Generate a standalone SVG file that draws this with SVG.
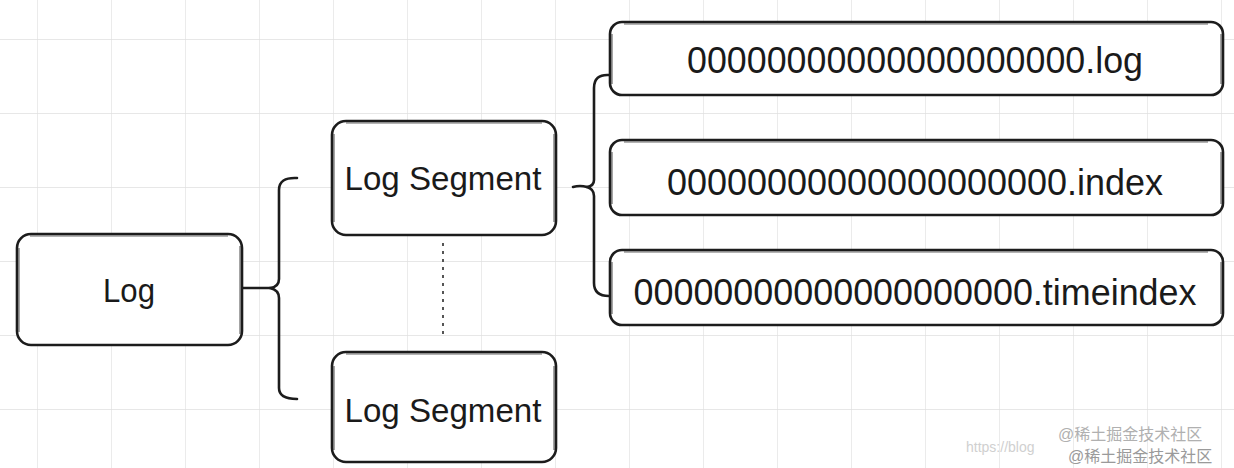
<svg xmlns="http://www.w3.org/2000/svg" width="1234" height="468" viewBox="0 0 1234 468">
  <defs>
    <pattern id="grid" x="37" y="39" width="74" height="74" patternUnits="userSpaceOnUse">
      <path d="M0 0 H74 M0 0 V74" fill="none" stroke="#e0e0e0" stroke-width="1.3"/>
    </pattern>
  </defs>
  <style>
    .box { fill: #ffffff; stroke: #1c1c1c; stroke-width: 2.6; stroke-linejoin: round; }
    .sk { fill: none; stroke: #2a2a2a; stroke-width: 1.2; opacity: 0.7; }
    .lbl { font-family: "Liberation Sans", "DejaVu Sans", sans-serif; fill: #1a1a1a; text-anchor: middle; }
    .con { fill: none; stroke: #1c1c1c; stroke-width: 2.6; stroke-linecap: round; stroke-linejoin: round; }
    .dot { fill: none; stroke: #555555; stroke-width: 2; stroke-dasharray: 3 5; }
    .wm { font-family: "Liberation Sans", "Noto Sans CJK SC", sans-serif; font-size: 16px; }
  </style>
  <rect width="1234" height="468" fill="#ffffff"/>
  <rect width="1234" height="468" fill="url(#grid)"/>

  <g id="connectors">
    <!-- Log -> segments brace -->
    <path class="con" d="M243 288 H270"/>
    <path class="con" d="M297 178 Q279 177 279 190 V279 Q279 287 270 288 Q279 290 279 298 V388 Q279 399 297 399"/>
    <!-- segment -> files brace -->
    <path class="con" d="M573 187 Q580 185 587 187"/>
    <path class="con" d="M609 75 Q594 74 594 88 V180 Q594 186 587 187 Q594 189 594 196 V283 Q594 296 609 296"/>
    <!-- dotted between segments -->
    <path class="dot" d="M443 243 V334"/>
  </g>

  <g id="node-log">
    <rect class="box" x="17" y="234" width="225" height="111" rx="14"/>
    <path class="sk" d="M30 236 H228 M19 248 V332 M240 246 V334"/>
    <text class="lbl" x="129" y="302" font-size="33" textLength="52" lengthAdjust="spacingAndGlyphs">Log</text>
  </g>

  <g id="node-segment-1">
    <rect class="box" x="332" y="121" width="224" height="114" rx="14"/>
    <path class="sk" d="M346 123 H542 M334 134 V222 M554 134 V222"/>
    <text class="lbl" x="443" y="190" font-size="34" textLength="197" lengthAdjust="spacingAndGlyphs">Log Segment</text>
  </g>

  <g id="node-segment-2">
    <rect class="box" x="332" y="352" width="224" height="110" rx="14"/>
    <path class="sk" d="M346 354 H542 M334 366 V450 M554 366 V450"/>
    <text class="lbl" x="443" y="422" font-size="34" textLength="197" lengthAdjust="spacingAndGlyphs">Log Segment</text>
  </g>

  <g id="node-file-log">
    <rect class="box" x="610" y="22" width="613" height="73" rx="12"/>
    <path class="sk" d="M624 24 H1208 M612 34 V84 M1221 34 V84"/>
    <text class="lbl" x="915" y="73" font-size="36" textLength="456" lengthAdjust="spacingAndGlyphs">00000000000000000000.log</text>
  </g>

  <g id="node-file-index">
    <rect class="box" x="610" y="140" width="613" height="75" rx="12"/>
    <path class="sk" d="M624 142 H1208 M612 152 V204 M1221 152 V204"/>
    <text class="lbl" x="915" y="195" font-size="36" textLength="496" lengthAdjust="spacingAndGlyphs">00000000000000000000.index</text>
  </g>

  <g id="node-file-timeindex">
    <rect class="box" x="610" y="250" width="613" height="75" rx="12"/>
    <path class="sk" d="M624 252 H1208 M612 262 V314 M1221 262 V314"/>
    <text class="lbl" x="915" y="305" font-size="36" textLength="563" lengthAdjust="spacingAndGlyphs">00000000000000000000.timeindex</text>
  </g>

  <g id="watermark">
    <text x="966" y="452" font-family="Liberation Sans, sans-serif" font-size="14" fill="#d0d0d0">https://blog</text>
    <text class="wm" x="1058" y="440" fill="#b0b0b0">@稀土掘金技术社区</text>
    <text class="wm" x="1068" y="462" fill="#9a9a9a">@稀土掘金技术社区</text>
  </g>
</svg>
